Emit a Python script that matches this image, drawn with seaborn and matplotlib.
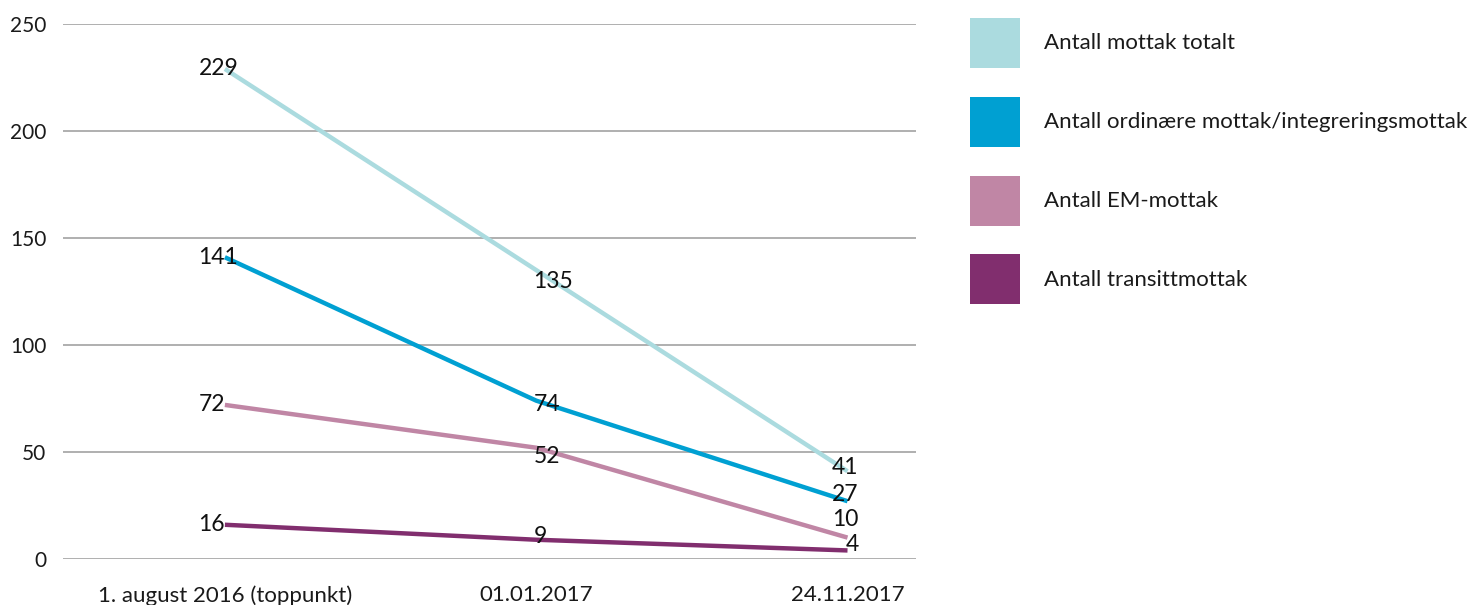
import matplotlib
matplotlib.use("Agg")
import matplotlib.pyplot as plt
from matplotlib.patches import Patch
import seaborn as sns
import pandas as pd

categories = ["1. august 2016 (toppunkt)", "01.01.2017", "24.11.2017"]
series_names = [
    "Antall mottak totalt",
    "Antall ordinære mottak/integreringsmottak",
    "Antall EM-mottak",
    "Antall transittmottak",
]
totalt = [229, 135, 41]
ordinaere = [141, 74, 27]
em = [72, 52, 10]
transitt = [16, 9, 4]
colors = ["#abdbdf", "#00a0d2", "#c086a5", "#812e6e"]

values = [totalt, ordinaere, em, transitt]
rows = []
for name, vals in zip(series_names, values):
    for i, (c, v) in enumerate(zip(categories, vals)):
        rows.append({"serie": name, "pos": i, "kategori": c, "verdi": v})
df = pd.DataFrame(rows)

sns.set_theme(style="white")
plt.rcParams["font.family"] = ["Lato", "DejaVu Sans"]

fig = plt.figure(figsize=(14.69, 6.05), dpi=100)
ax = fig.add_axes([63 / 1469, 1 - 559 / 605, (916 - 63) / 1469, (559 - 24) / 605])

sns.lineplot(data=df, x="pos", y="verdi", hue="serie", hue_order=series_names,
             palette=colors, linewidth=3.2, legend=False, ax=ax, zorder=3,
             solid_capstyle="butt")

ax.set_xlim(-0.52, 2.22)
ax.set_ylim(0, 250)
ax.set_yticks([0, 50, 100, 150, 200, 250])
ax.set_xticks(range(len(categories)))
ax.set_xticklabels(categories)
ax.set_xlabel("")
ax.set_ylabel("")
for s in ax.spines.values():
    s.set_visible(False)
ax.yaxis.grid(True, color="#9a9a9a", linewidth=1.1)
ax.set_axisbelow(True)
ax.tick_params(axis="y", length=0, pad=12, labelsize=15, labelcolor="#1a1a1a")
ax.tick_params(axis="x", length=0, pad=19, labelsize=16, labelcolor="#1a1a1a")

# data labels: per-column alignment/offsets (points)
col_style = [
    dict(ha="left", dx=-19),
    dict(ha="left", dx=-2),
    dict(ha="right", dx=8),
]
dy_last = {41: 3, 27: 5, 10: 13, 4: 4}
dy_mid = {135: -8, 74: -3, 52: -6, 9: 2}
for vals in values:
    for i, v in enumerate(vals):
        st = col_style[i]
        dy = 0
        if i == 1:
            dy = dy_mid.get(v, 0)
        elif i == 2:
            dy = dy_last.get(v, 0)
        ax.annotate(str(v), (i, v), xytext=(st["dx"], dy), textcoords="offset points",
                    ha=st["ha"], va="center", fontsize=16.5, color="#111111",
                    zorder=5, annotation_clip=False)

handles = [Patch(facecolor=c, edgecolor="none") for c in colors]
fig.legend(handles, series_names, loc="upper left",
           bbox_to_anchor=(970 / 1469, 1 - 18 / 605), frameon=False,
           fontsize=16, handlelength=2.25, handleheight=3.08,
           labelspacing=1.3, handletextpad=1.08, borderpad=0, borderaxespad=0,
           labelcolor="#1a1a1a")

fig.savefig("out.png", dpi=100)
